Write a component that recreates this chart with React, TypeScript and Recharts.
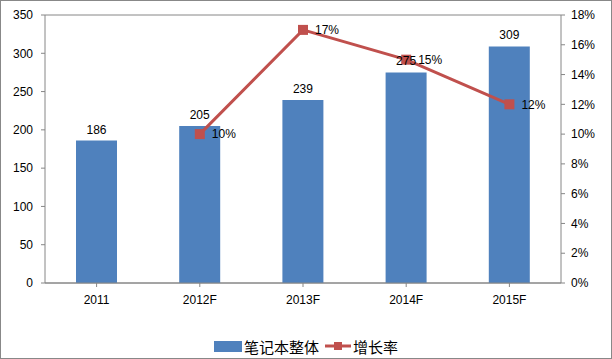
import { ComposedChart, Bar, Line, XAxis, YAxis, CartesianGrid, Legend, LabelList } from 'recharts';

const years = ['2011', '2012F', '2013F', '2014F', '2015F'];
const notebooks = [186, 205, 239, 275, 309];
const growth: (number | null)[] = [null, 10, 17, 15, 12];
const leftTicks = [0, 50, 100, 150, 200, 250, 300, 350];
const rightTicks = [0, 2, 4, 6, 8, 10, 12, 14, 16, 18];

const data = years.map((y, i) => ({ name: y, total: notebooks[i], rate: growth[i] }));

const BLUE = '#4F81BD';
const RED = '#C0504D';
const tick = { fontSize: 12, fill: '#000', fontFamily: '"Liberation Sans", Arial, sans-serif' };

const SquareDot = (props: any) => {
  const { cx, cy, value } = props;
  if (value == null || cx == null) return <g />;
  return <rect x={cx - 5} y={cy - 5} width={10} height={10} fill={RED} />;
};

const LegendContent = () => (
  <div style={{ display: 'flex', justifyContent: 'center', alignItems: 'center', height: 22, fontFamily: '"Noto Sans CJK SC", sans-serif', fontSize: 15, color: '#000' }}>
    <span style={{ width: 28, height: 11, background: BLUE, display: 'inline-block', marginRight: 2 }} />
    <span style={{ marginRight: 6 }}>笔记本整体</span>
    <svg width={26} height={12} style={{ marginRight: 2 }}>
      <line x1={0} y1={6} x2={26} y2={6} stroke={RED} strokeWidth={3} />
      <rect x={9} y={2} width={8} height={8} fill={RED} />
    </svg>
    <span>增长率</span>
  </div>
);

export default function App() {
  return (
    <div style={{ position: 'absolute', left: 0, top: 0, width: 612, height: 359, boxSizing: 'border-box', border: '1px solid #888', background: '#fff' }}>
      <ComposedChart width={610} height={357} data={data} margin={{ top: 14, right: 0, left: 0, bottom: 1 }} barCategoryGap="30%">
        <CartesianGrid vertical={false} stroke="#868686" />
        <XAxis dataKey="name" tick={tick} stroke="#868686" tickSize={4} height={52} tickMargin={8} />
        <YAxis yAxisId="left" domain={[0, 350]} ticks={leftTicks} tick={tick} stroke="#868686" tickSize={4} width={44} tickMargin={8} interval={0} />
        <YAxis yAxisId="right" orientation="right" domain={[0, 18]} ticks={rightTicks} tick={tick} stroke="#868686" tickSize={4} width={50} tickMargin={6} interval={0} tickFormatter={(v) => `${v}%`} />
        <Legend verticalAlign="bottom" content={<LegendContent />} />
        <Bar yAxisId="left" dataKey="total" fill={BLUE} barSize={41} isAnimationActive={false}>
          <LabelList dataKey="total" position="top" offset={7} style={{ ...tick }} />
        </Bar>
        <Line yAxisId="right" dataKey="rate" stroke={RED} strokeWidth={3} dot={<SquareDot />} activeDot={false} isAnimationActive={false} connectNulls={false}>
          <LabelList dataKey="rate" position="right" offset={12} formatter={(v: any) => (v == null ? '' : `${v}%`)} style={{ ...tick }} />
        </Line>
      </ComposedChart>
    </div>
  );
}
